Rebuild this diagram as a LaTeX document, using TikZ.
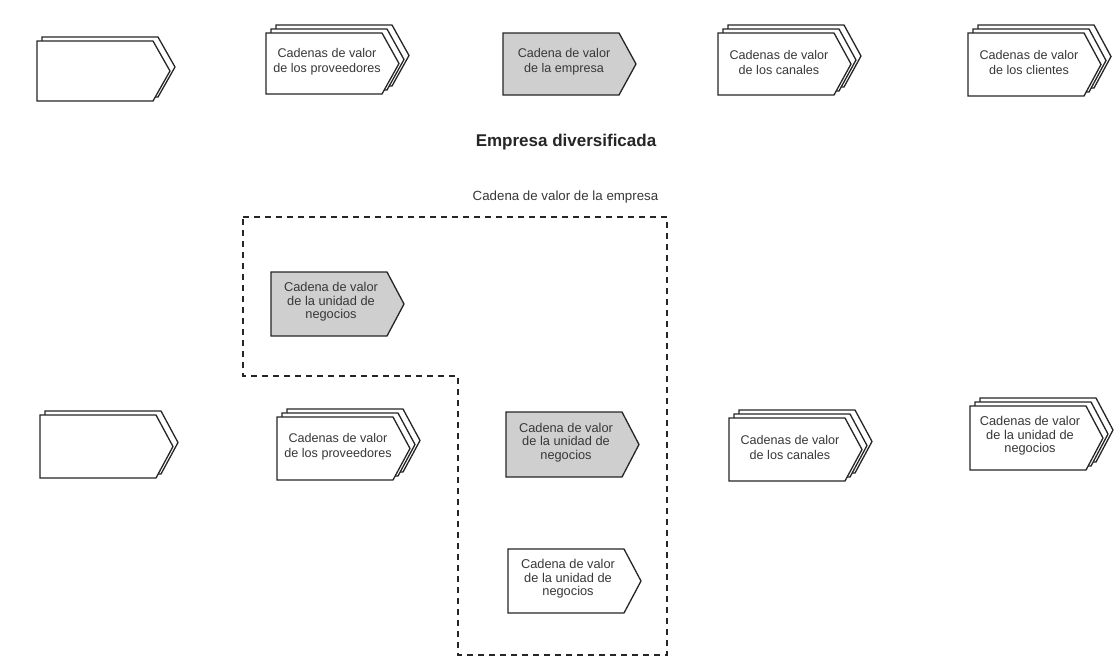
\documentclass[tikz,border=0pt]{standalone}
\usepackage{fontspec}
\setmainfont{Liberation Sans}
\definecolor{vcgray}{HTML}{CFCFCF}
\definecolor{vcink}{HTML}{262626}
\definecolor{vcfont}{HTML}{383838}
% one value-chain chevron: left x, top y, height, fill
\newcommand\vcshape[4]{\draw[vcline,fill=#4] (#1,#2) -- ++(116,0) -- ++(17,#3/2) -- ++(-17,#3/2) -- ++(-116,0) -- cycle;}
% stacks of two and three chevrons, the front one at (x,y)
\newcommand\vcdouble[3]{\vcshape{#1+5}{#2-4}{#3}{white}\vcshape{#1}{#2}{#3}{white}}
\newcommand\vctriple[3]{\vcshape{#1+10}{#2-8}{#3}{white}\vcshape{#1+5}{#2-4}{#3}{white}\vcshape{#1}{#2}{#3}{white}}
\tikzset{
  vcline/.style={draw=vcink, line width=1.3pt, line join=miter},
  vctext/.style={font=\fontsize{12.6}{15}\selectfont, text=vcfont, align=center, inner sep=0pt},
  vctextb/.style={font=\fontsize{12.8}{13.4}\selectfont, text=vcfont, align=center, inner sep=0pt},
  vcframe/.style={draw=vcink, line width=1.6pt, dash pattern=on 6pt off 5pt},
}
\begin{document}
\begin{tikzpicture}[x=1pt, y=-1pt]
\useasboundingbox[fill=white] (0,0) rectangle (1119,662);

% upper row: single company
\vcdouble{37}{41}{60}
\vctriple{266}{33}{61}
\node[vctext] (provTop) at (266+61, 33+61/2-2) {Cadenas de valor\\de los proveedores};
\vcshape{503}{33}{62}{vcgray}
\node[vctext] (empTop) at (503+61, 33+62/2-2) {Cadena de valor\\de la empresa};
\vctriple{718}{33}{62}
\node[vctext] (canTop) at (718+61, 33+62/2-2) {Cadenas de valor\\de los canales};
\vctriple{968}{33}{63}
\node[vctext] (cliTop) at (968+61, 33+63/2-2) {Cadenas de valor\\de los clientes};

% diversified company
\node[font=\bfseries\fontsize{17}{20}\selectfont, text=vcink] (title) at (566,142) {Empresa diversificada};
\node[font=\fontsize{13.3}{16}\selectfont, text=vcfont] (frameLabel) at (565.5,197) {Cadena de valor de la empresa};

\draw[vcframe] (243,217) -- (667,217) -- (667,655) -- (458,655) -- (458,376) -- (243,376) -- cycle;

\vcshape{271}{272}{64}{vcgray}
\node[vctextb] (unitA) at (271+60, 272+64/2-2) {Cadena de valor\\de la unidad de\\negocios};

% lower row
\vcdouble{40}{415}{63}
\vctriple{277}{417}{63}
\node[vctext] (provLow) at (277+61, 417+63/2-2) {Cadenas de valor\\de los proveedores};
\vcshape{506}{412}{65}{vcgray}
\node[vctextb] (unitB) at (506+60, 412+65/2-2) {Cadena de valor\\de la unidad de\\negocios};
\vctriple{729}{418}{63}
\node[vctext] (canLow) at (729+61, 418+63/2-2) {Cadenas de valor\\de los canales};
\vctriple{970}{406}{64}
\node[vctextb] (unitR) at (970+60, 406+64/2-2) {Cadenas de valor\\de la unidad de\\negocios};

\vcshape{508}{549}{64}{white}
\node[vctextb] (unitC) at (508+60, 549+64/2-2) {Cadena de valor\\de la unidad de\\negocios};
\end{tikzpicture}
\end{document}
